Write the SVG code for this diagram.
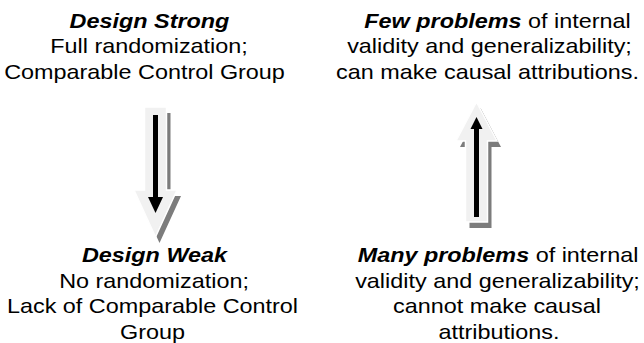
<svg xmlns="http://www.w3.org/2000/svg" width="644" height="343" viewBox="0 0 644 343">
  <style>
    .t { font-family: "Liberation Sans", Arial, Helvetica, sans-serif; font-size: 20px; fill: #000; text-anchor: middle; }
    .b { font-weight: bold; font-style: italic; }
    .shadow { fill: #7c7c7c; }
    .body { fill: #f1f1f1; stroke: #ffffff; stroke-width: 1.5; stroke-linejoin: miter; }
    .core { fill: #000; }
  </style>
  <defs>
    <!-- block arrow pointing down, origin at shaft centre / top -->
    <path id="blockDown" d="M-11,0 H11 V83 H21.5 L0,130 L-21.5,83 H-11 Z"/>
    <!-- block arrow pointing up, origin at tip -->
    <path id="blockUp" d="M0,0 L20.5,39 H11 V120 H-11 V39 H-20.5 Z"/>
  </defs>
  <rect width="644" height="343" fill="#ffffff"/>

  <!-- top-left: strong design -->
  <g id="design-strong">
    <text class="t b" transform="translate(149.5,27.5) scale(1.17,1)">Design Strong</text>
    <text class="t" transform="translate(149,53) scale(1.17,1)">Full randomization;</text>
    <text class="t" transform="translate(144.5,78.5) scale(1.17,1)">Comparable Control Group</text>
  </g>

  <!-- bottom-left: weak design -->
  <g id="design-weak">
    <text class="t b" transform="translate(154.5,262) scale(1.17,1)">Design Weak</text>
    <text class="t" transform="translate(154,287.5) scale(1.17,1)">No randomization;</text>
    <text class="t" transform="translate(152.5,313) scale(1.17,1)">Lack of Comparable Control</text>
    <text class="t" transform="translate(152.5,338.5) scale(1.17,1)">Group</text>
  </g>

  <!-- top-right: few problems -->
  <g id="few-problems">
    <text class="t" transform="translate(497.5,27.5) scale(1.17,1)"><tspan class="b">Few problems</tspan> of internal</text>
    <text class="t" transform="translate(489.5,53) scale(1.17,1)">validity and generalizability;</text>
    <text class="t" transform="translate(487.5,78.5) scale(1.17,1)">can make causal attributions.</text>
  </g>

  <!-- bottom-right: many problems -->
  <g id="many-problems">
    <text class="t" transform="translate(498,262) scale(1.17,1)"><tspan class="b">Many problems</tspan> of internal</text>
    <text class="t" transform="translate(497.5,287.5) scale(1.17,1)">validity and generalizability;</text>
    <text class="t" transform="translate(497,313) scale(1.17,1)">cannot make causal</text>
    <text class="t" transform="translate(499,338.5) scale(1.17,1)">attributions.</text>
  </g>

  <!-- connectors: shadowed block arrows with a thin black arrow inside -->
  <g id="connectors">
    <g id="arrow-down">
      <use href="#blockDown" class="shadow" transform="translate(159.5,113)"/>
      <use href="#blockDown" class="body" transform="translate(155.5,107)"/>
      <rect class="core" x="153" y="115" width="5" height="83"/>
      <polygon class="core" points="148,197 163,197 155.5,213"/>
    </g>
    <g id="arrow-up">
      <use href="#blockUp" class="shadow" transform="translate(480.5,108)"/>
      <use href="#blockUp" class="body" transform="translate(476.5,102)"/>
      <rect class="core" x="474" y="128" width="5" height="89"/>
      <polygon class="core" points="476.5,117 482.5,129 470.5,129"/>
    </g>
  </g>
</svg>
